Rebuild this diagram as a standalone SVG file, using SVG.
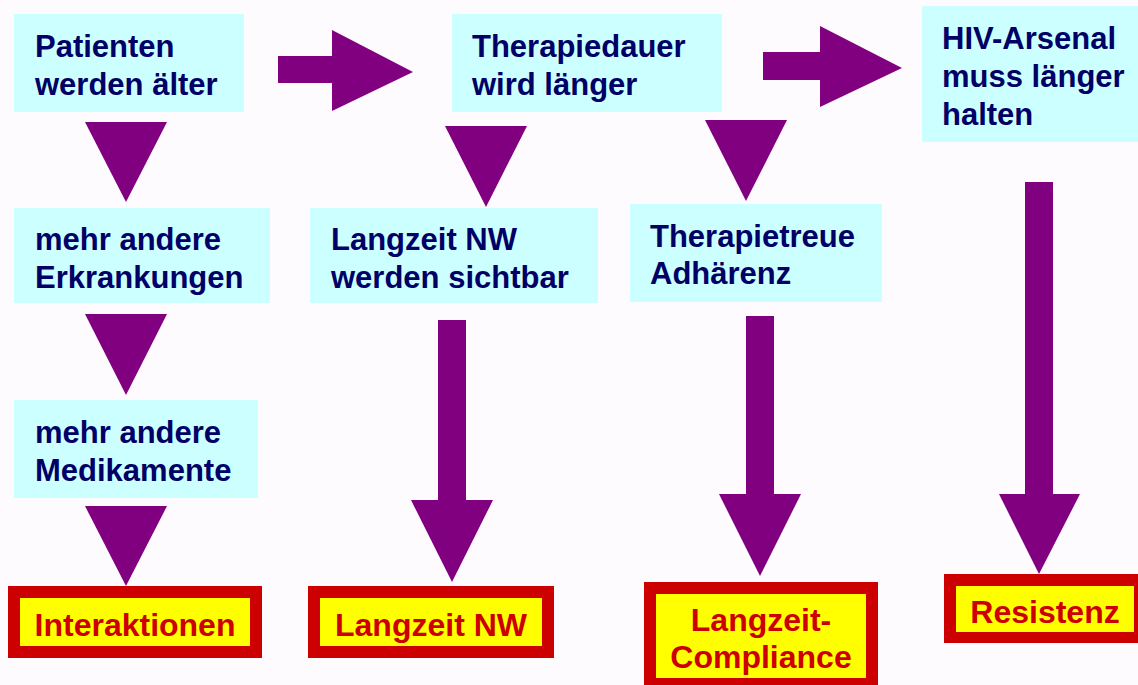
<svg xmlns="http://www.w3.org/2000/svg" width="1138" height="685" viewBox="0 0 1138 685">
<style>
.box{fill:#CCFFFF}
.t{font-family:"Liberation Sans",Arial,sans-serif;font-weight:bold;font-size:31px;fill:#000066}
.out{fill:#CC0000}
.in{fill:#FFFF00}
.r{font-family:"Liberation Sans",Arial,sans-serif;font-weight:bold;font-size:32px;fill:#CC0000;text-anchor:middle}
.a{fill:#800080}
</style>
<rect width="1138" height="685" fill="#FEFBFE"/>
<g id="connectors">
<polygon class="a" points="278,56 332,56 332,30 413,72 332,111 332,83 278,83"/>
<polygon class="a" points="763,52 820,52 820,26 902,68 820,107 820,80 763,80"/>
<polygon class="a" points="85,122 167,122 126,202"/>
<polygon class="a" points="445,126 527,126 486,207"/>
<polygon class="a" points="705,120 787,120 746,201"/>
<polygon class="a" points="85,314 167,314 126,395"/>
<polygon class="a" points="85,506 167,506 126,586"/>
<polygon class="a" points="438,320 466,320 466,500 493,500 452,582 411,500 438,500"/>
<polygon class="a" points="746,316 774,316 774,494 801,494 760,576 719,494 746,494"/>
<polygon class="a" points="1025,182 1053,182 1053,494 1080,494 1039,574 999,494 1025,494"/>
</g>
<g id="n1"><rect class="box" x="14" y="14" width="230" height="98"/><text class="t" x="35" y="57">Patienten</text><text class="t" x="35" y="95">werden älter</text></g>
<g id="n2"><rect class="box" x="452" y="14" width="270" height="98"/><text class="t" x="472" y="57">Therapiedauer</text><text class="t" x="472" y="95">wird länger</text></g>
<g id="n3"><rect class="box" x="922" y="6" width="216" height="136"/><text class="t" x="942" y="49">HIV-Arsenal</text><text class="t" x="942" y="87">muss länger</text><text class="t" x="942" y="125">halten</text></g>
<g id="n4"><rect class="box" x="14" y="208" width="256" height="95"/><text class="t" x="35" y="250">mehr andere</text><text class="t" x="35" y="288">Erkrankungen</text></g>
<g id="n5"><rect class="box" x="310" y="208" width="288" height="95"/><text class="t" x="331" y="250">Langzeit NW</text><text class="t" x="331" y="288">werden sichtbar</text></g>
<g id="n6"><rect class="box" x="630" y="204" width="252" height="98"/><text class="t" x="650" y="247">Therapietreue</text><text class="t" x="650" y="284">Adhärenz</text></g>
<g id="n7"><rect class="box" x="14" y="400" width="244" height="98"/><text class="t" x="35" y="443">mehr andere</text><text class="t" x="35" y="481">Medikamente</text></g>
<g id="r1"><rect class="out" x="8" y="586" width="254" height="72"/><rect class="in" x="20" y="598" width="230" height="48"/><text class="r" x="135" y="636">Interaktionen</text></g>
<g id="r2"><rect class="out" x="308" y="586" width="246" height="72"/><rect class="in" x="320" y="598" width="222" height="48"/><text class="r" x="431" y="636">Langzeit NW</text></g>
<g id="r3"><rect class="out" x="644" y="582" width="234" height="103"/><rect class="in" x="656" y="594" width="210" height="84"/><text class="r" x="761" y="631">Langzeit-</text><text class="r" x="761" y="668">Compliance</text></g>
<g id="r4"><rect class="out" x="944" y="574" width="202" height="69"/><rect class="in" x="956" y="586" width="178" height="46"/><text class="r" x="1045" y="623">Resistenz</text></g>
</svg>
